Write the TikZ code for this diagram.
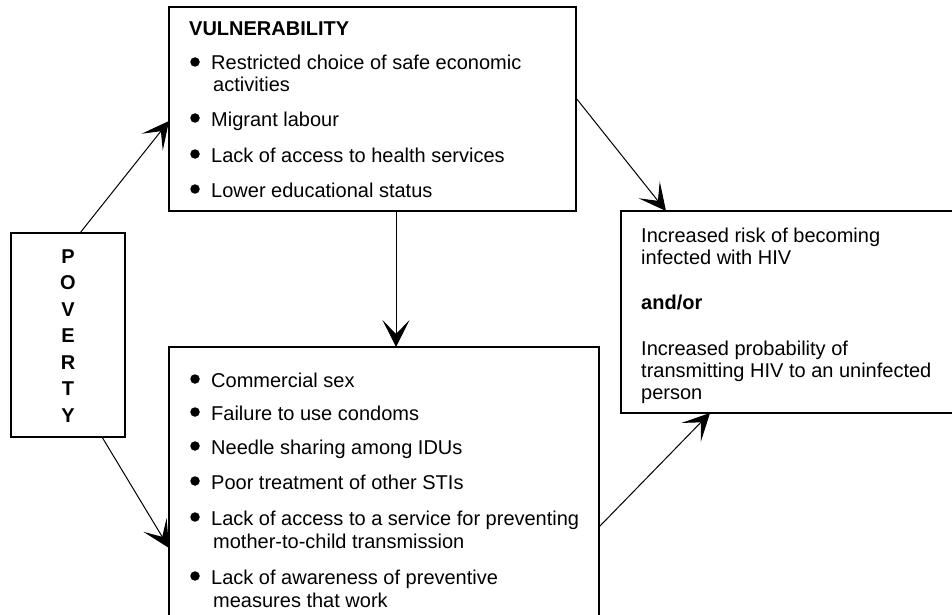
\documentclass[tikz,border=0pt]{standalone}
\usepackage{fontspec}
\setmainfont{Liberation Sans}
\usetikzlibrary{arrows.meta, calc}

\tikzset{
    box/.style={draw, rectangle, line width=1.5pt, inner sep=0pt, outer sep=0pt, anchor=north west},
    txt/.style={anchor=base west, inner sep=0pt, font=\fontsize{20}{22}\selectfont},
    bold/.style={txt, font=\fontsize{20}{22}\selectfont\bfseries},
    dot/.style={circle, fill, inner sep=0pt, minimum size=9.5pt},
    link/.style={-{Stealth[length=27pt, width=27pt, inset=14pt]}, line width=1pt}
}

\begin{document}
\begin{tikzpicture}[x=1pt, y=-1pt]
    \useasboundingbox (0, 0) rectangle (952, 615);

    % boxes
    \node[box, minimum width=114pt, minimum height=204pt] (pov) at(11, 233) {};
    \node[box, minimum width=407pt, minimum height=204pt] (vul) at(169, 7) {};
    \node[box, minimum width=430pt, minimum height=273pt] (mid) at(169, 347) {};
    \node[box, minimum width=334pt, minimum height=202pt] (risk) at(621, 211) {};

    % poverty letters
    \foreach \c [count=\i] in {P, O, V, E, R, T, Y}
        \node[bold, anchor=base] (p\i) at(68, 236.5+26.5*\i) {\c};

    % vulnerability
    \node[bold] (vtitle) at(189, 36) {VULNERABILITY};
    \foreach \t/\yy [count=\i] in {Restricted choice of safe economic/70, Migrant labour/126,
        Lack of access to health services/162, Lower educational status/197} {
        \node[dot] (vd\i) at(195, \yy-8) {};
        \node[txt] (v\i) at(211, \yy) {\t};
    }
    \node[txt] (v1b) at(213, 92) {activities};

    % behaviours
    \foreach \t/\yy [count=\i] in {Commercial sex/387, Failure to use condoms/420,
        Needle sharing among IDUs/454, Poor treatment of other STIs/489,
        Lack of access to a service for preventing/525, Lack of awareness of preventive/584} {
        \node[dot] (md\i) at(195, \yy-8) {};
        \node[txt] (m\i) at(211, \yy) {\t};
    }
    \node[txt] (m5b) at(213, 548) {mother-to-child transmission};
    \node[txt] (m6b) at(213, 607) {measures that work};

    % outcome
    \node[txt] (r1) at(641, 242) {Increased risk of becoming};
    \node[txt] (r2) at(641, 264) {infected with HIV};
    \node[bold] (r3) at(641, 309) {and/or};
    \node[txt] (r4) at(641, 355) {Increased probability of};
    \node[txt] (r5) at(641, 377) {transmitting HIV to an uninfected};
    \node[txt] (r6) at(641, 399) {person};

    % arrows
    \draw[link] ($(pov.north)+(12, 0)$) -- ($(vul.west)+(0, 12)$);
    \draw[link] ($(vul.south)+(23.5, 0)$) -- ($(mid.north)+(12, 0)$);
    \draw[link] ($(vul.east)+(0, -11)$) -- ($(risk.north)+(-122, 0)$);
    \draw[link] ($(pov.south)+(34, 0)$) -- ($(mid.west)+(0, 64.5)$);
    \draw[link] ($(mid.east)+(0, 43.5)$) -- ($(risk.south)+(-78, 0)$);
\end{tikzpicture}
\end{document}
